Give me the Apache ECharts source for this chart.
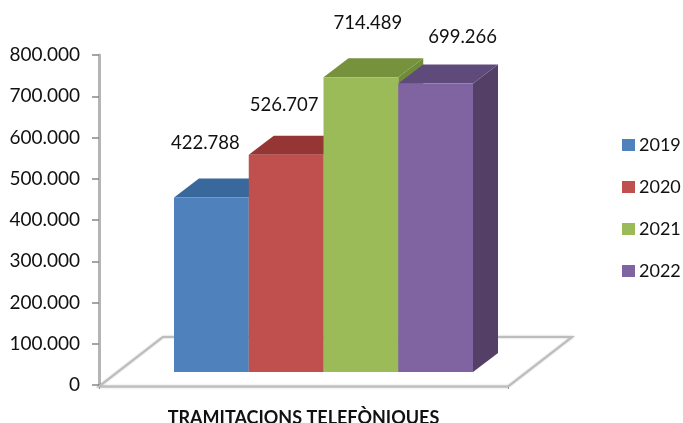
<!DOCTYPE html>
<html><head><meta charset="utf-8">
<style>html,body{margin:0;padding:0;background:#fff}#c{width:683px;height:423px}</style>
<script src="https://cdn.jsdelivr.net/npm/echarts@6/dist/echarts.min.js"></script>
</head><body><div id="c"></div>
<script>
const categories = ['TRAMITACIONS TELEFÒNIQUES'];
const years = ['2019', '2020', '2021', '2022'];
const values = [422788, 526707, 714489, 699266];
const valueLabels = ['422.788', '526.707', '714.489', '699.266'];
const frontColors = ['#4F81BD', '#C0504D', '#9BBB59', '#8064A2'];
const topColors = ['#38689C', '#963634', '#76923C', '#5F4A7C'];
const sideColors = ['#2F5A88', '#7F2E2C', '#708C38', '#544067'];
const labelNudges = [[-6, -55], [-2, -50], [7, -54], [27, -47]];

const FONT = 'Lato, "Open Sans", sans-serif';
const padLeft = 75, padRight = 35;       // bar run inside the category band
const baseLift = 13;                     // bars stand this far into the floor
const barDepth = [25, 19];               // 3D extrusion of a bar
const floorDepth = [64, 48];             // 3D extrusion of the floor
const fmt = v => v === 0 ? '0' : String(v).replace(/\B(?=(\d{3})+$)/g, '.');

function floorRender(params, api) {
  const r = params.coordSys, x0 = r.x, x1 = r.x + r.width, y = r.y + r.height;
  const [dx, dy] = floorDepth;
  return {
    type: 'polygon', silent: true,
    shape: { points: [[x0, y + 1.5], [x1, y + 1.5], [x1 + dx, y - dy], [x0 + dx, y - dy]] },
    style: { fill: '#fff', stroke: '#bdbdbd', lineWidth: 2, shadowBlur: 2, shadowColor: 'rgba(0,0,0,0.25)' }
  };
}

function barRender(i) {
  return function (params, api) {
    const r = params.coordSys;
    const w = (r.width - padLeft - padRight) / years.length;
    const x = r.x + padLeft + i * w;
    const top = api.coord([api.value(0), api.value(1)])[1] - baseLift;
    const base = api.coord([api.value(0), 0])[1] - baseLift;
    const [dx, dy] = barDepth;
    const [nx, ny] = labelNudges[i];
    return {
      type: 'group',
      children: [
        { type: 'polygon', shape: { points: [[x + w, top], [x + w + dx, top - dy], [x + w + dx, base - dy], [x + w, base]] },
          style: { fill: sideColors[i] } },
        { type: 'polygon', shape: { points: [[x, top], [x + dx, top - dy], [x + w + dx, top - dy], [x + w, top]] },
          style: { fill: topColors[i] } },
        { type: 'rect', shape: { x: x, y: top, width: w, height: base - top },
          style: { fill: frontColors[i] } },
        { type: 'text', style: { x: x + w / 2 + nx, y: top + ny, text: valueLabels[i],
            fill: '#111', font: '18.5px ' + FONT, align: 'center', verticalAlign: 'middle' } }
      ]
    };
  };
}

const chart = echarts.init(document.getElementById('c'), null, { renderer: 'canvas' });
chart.setOption({
  animation: false,
  backgroundColor: '#fff',
  textStyle: { fontFamily: FONT },
  grid: { left: 99, right: 175, top: 55, bottom: 38, containLabel: false, outerBoundsMode: 'none' },
  legend: {
    show: true, orient: 'vertical', left: 622, top: 136, padding: 0, itemWidth: 13, itemHeight: 12, itemGap: 24,
    icon: 'rect', data: years, textStyle: { fontSize: 18, color: '#111', fontFamily: FONT, padding: [0, 0, 0, -1] }
  },
  xAxis: {
    type: 'category', data: categories,
    axisLine: { show: false },
    axisTick: { show: true, length: 4, lineStyle: { color: '#999', width: 1 } },
    axisLabel: { margin: 24, fontSize: 18, fontWeight: 'bold', color: '#111', fontFamily: FONT }
  },
  yAxis: {
    type: 'value', min: 0, max: 800000, interval: 100000,
    axisLine: { show: true, lineStyle: { color: '#b5b5b5', width: 3 } },
    axisTick: { show: true, length: 7, lineStyle: { color: '#888', width: 1.5 } },
    splitLine: { show: false },
    axisLabel: { margin: 19, fontSize: 19, color: '#111', fontFamily: FONT, padding: [5, 0, 0, 0], formatter: fmt }
  },
  series: [
    { type: 'custom', name: 'floor', renderItem: floorRender, data: [[0, 0]], silent: true, z: 1, clip: false,
      encode: { x: 0, y: 1 } }
  ].concat(years.map((y, i) => ({
    type: 'custom', name: y, renderItem: barRender(i), clip: false, z: 2,
    itemStyle: { color: frontColors[i] },
    encode: { x: 0, y: 1 },
    data: [[0, values[i]]]
  })))
});
</script></body></html>
